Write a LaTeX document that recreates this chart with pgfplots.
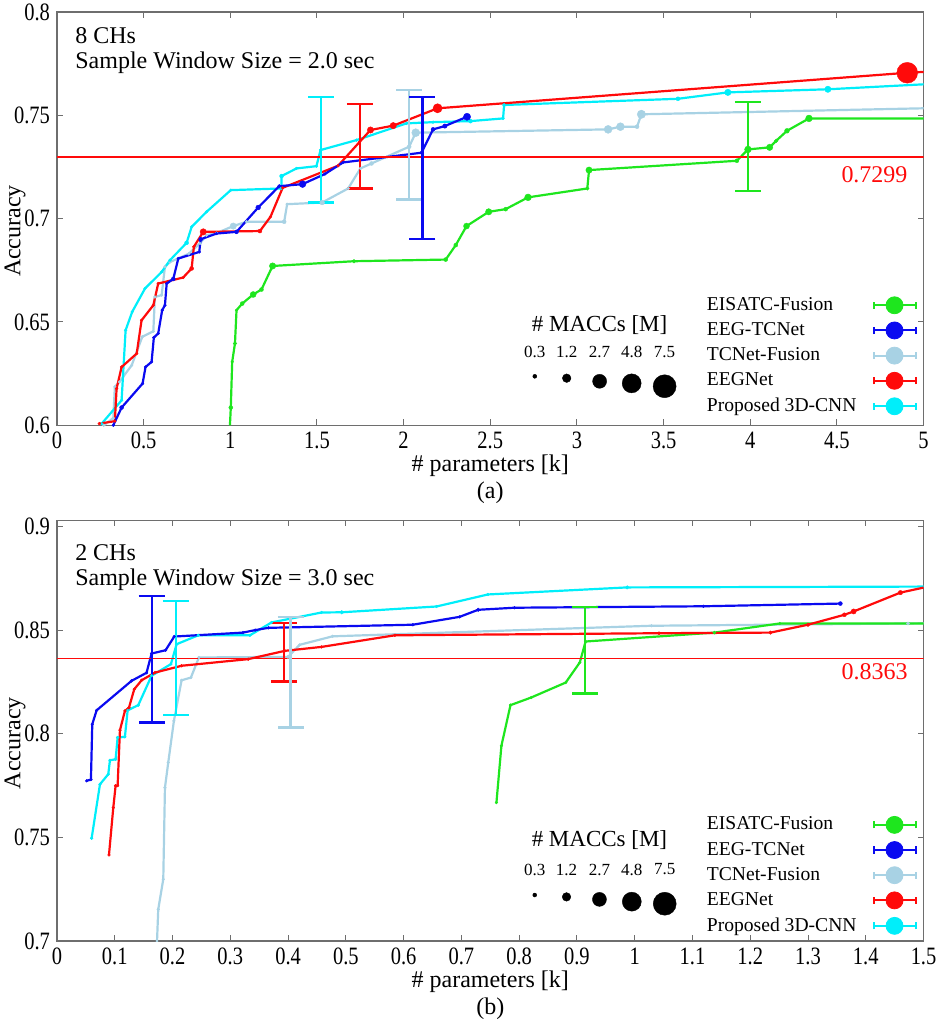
\documentclass[border=0pt]{standalone}
\usepackage{graphicx}
\usepackage{pgfplots}
\pgfplotsset{compat=1.18}
\usepackage{fontspec}
\setmainfont{Liberation Serif}

\definecolor{cGreen}{RGB}{30,230,30}
\definecolor{cBlue}{RGB}{10,10,240}
\definecolor{cLblue}{RGB}{168,210,228}
\definecolor{cRed}{RGB}{255,10,10}
\definecolor{cCyan}{RGB}{0,238,250}
\definecolor{cFrame}{RGB}{110,110,110}

\newcommand{\legimg}[1]{\addlegendimage{legend image code/.code={
  \draw[#1, line width=1pt] (0pt,0pt)--(21pt,0pt) (0pt,-1.8pt)--(0pt,1.8pt) (21pt,-1.8pt)--(21pt,1.8pt);
  \fill[#1] (10.5pt,0pt) circle (4.25pt);}}}

\tikzset{
  lab/.style={font=\fontsize{12}{12.5}\selectfont, align=left, anchor=north west, inner sep=0pt},
  macc/.style={font=\fontsize{11.5}{13}\selectfont},
  mnum/.style={font=\fontsize{8.5}{10}\selectfont},
}

\pgfplotsset{
  ser/.style={color=#1, line width=1.1pt, mark=*, forget plot,
    mark options={solid, line width=0.2pt},
    scatter, scatter/use mapped color={draw=#1, fill=#1},
    visualization depends on={\thisrow{s} \as \msz},
    scatter/@pre marker code/.append style={/tikz/mark size=\msz}},
  ebar/.style={color=#1, mark=none, forget plot, line width=1.1pt,
    error bars/.cd, y dir=both, y explicit,
    error bar style={line width=1.1pt, color=#1},
    error mark options={line width=1.1pt, color=#1, mark size=6.5pt, rotate=90}},
  thr/.style={cRed, line width=0.8pt, forget plot},
  fig/.style={scale only axis, width=433.5pt,
    axis line style={draw=cFrame, line width=0.6pt},
    major tick style={draw=cFrame, line width=0.5pt},
    major tick length=3pt, tick align=inside,
    xtick pos=both, ytick pos=both,
    /pgf/number format/assume math mode=true,
    tick label style={font=\fontsize{12.5}{13}\selectfont},
    xticklabel={\scalebox{0.82}[1]{\pgfmathprintnumber{\tick}}},
    yticklabel={\scalebox{0.82}[1]{\pgfmathprintnumber{\tick}}},
    label style={font=\fontsize{12}{13.5}\selectfont},
    xlabel style={align=center, yshift=4pt},
    ylabel={Accuracy},
    ylabel style={at={(rel axis cs:-0.0484,0.47)}, anchor=center},
    legend plot pos=right,
    legend cell align=left,
    legend style={draw=none, fill=none, font=\fontsize{9.8}{11}\selectfont,
      row sep=0.6pt, column sep=6pt, anchor=north west},
  },
}

\begin{document}
\begin{tikzpicture}
\useasboundingbox (-28.5pt,-299pt) rectangle (442.5pt,212.75pt);

% ---------------- (a) 8 channels, 2.0 s ----------------
\begin{axis}[fig, at={(0,0)}, anchor=south west, height=206.75pt,
  xmin=0, xmax=5, ymin=0.6, ymax=0.8,
  xtick={0,0.5,1,1.5,2,2.5,3,3.5,4,4.5,5},
  ytick={0.6,0.65,0.7,0.75,0.8},
  xlabel={\# parameters [k]\\(a)},
  legend style={at={(rel axis cs:0.738,0.33)}}]

\addplot[ser=cLblue] table {
x y s
0.27 0.6 0.7
0.325 0.6035 0.7
0.334 0.6186 0.7
0.36 0.621 0.7
0.431 0.629 0.7
0.492 0.6428 0.7
0.556 0.6455 0.7
0.565 0.6621 0.7
0.604 0.663 0.7
0.623 0.6767 0.7
0.652 0.679 0.7
0.76 0.683 0.7
0.825 0.688 0.7
0.863 0.692 0.7
0.921 0.693 0.7
1.017 0.6964 1.6
1.094 0.6985 0.7
1.311 0.6985 1.0
1.328 0.707 0.7
1.53 0.7078 1.2
1.68 0.7146 0.7
1.751 0.7243 0.7
1.815 0.7267 1.0
2.032 0.7348 1.0
2.07 0.7416 2.0
3.18 0.7432 2.0
3.251 0.7445 2.0
3.347 0.7445 1.0
3.372 0.7505 2.1
5.0 0.7534 0
};
\addplot[ser=cGreen] table {
x y s
0.998 0.6 0
1.003 0.6086 1.0
1.011 0.6307 0.7
1.027 0.6396 0.9
1.036 0.6557 0.7
1.069 0.6589 1.0
1.132 0.6633 1.5
1.18 0.6657 1.0
1.244 0.6771 1.6
1.714 0.6794 0.9
2.243 0.6802 1.0
2.301 0.6872 1.0
2.363 0.6964 1.5
2.491 0.7033 1.6
2.589 0.7046 1.0
2.718 0.7103 1.7
3.06 0.7146 0.9
3.07 0.7235 1.6
3.923 0.728 1.0
3.987 0.7335 1.7
4.112 0.7345 1.6
4.15 0.7377 0.9
4.212 0.7425 1.2
4.339 0.7485 1.7
5.0 0.7485 0
};
\addplot[ser=cCyan] table {
x y s
0.258 0.6008 0.7
0.373 0.6121 0.7
0.396 0.646 0.7
0.434 0.6549 0.7
0.508 0.6662 0.7
0.604 0.6742 0.7
0.652 0.6799 0.7
0.748 0.6883 1.0
0.777 0.696 0.7
0.863 0.7033 0.7
1.003 0.7138 0.7
1.296 0.7146 0.7
1.296 0.7206 1.0
1.382 0.7243 0.7
1.497 0.7254 0.7
1.521 0.7332 0.7
1.728 0.738 0.7
2.017 0.7461 0.7
2.17 0.7467 0.7
2.386 0.7472 1.0
2.574 0.7485 0.7
2.58 0.755 0.9
3.583 0.758 1.0
3.871 0.7611 1.6
4.448 0.7626 1.6
5.0 0.765 0
};
\addplot[ser=cRed] table {
x y s
0.244 0.6008 0.7
0.334 0.602 0.7
0.344 0.6178 0.7
0.373 0.6282 0.7
0.46 0.6347 0.7
0.488 0.6508 0.7
0.556 0.6581 0.7
0.584 0.6686 0.7
0.728 0.6715 0.7
0.777 0.6759 1.0
0.79 0.6864 0.7
0.844 0.6936 1.6
1.171 0.694 1.0
1.232 0.7009 0.7
1.302 0.7149 0.7
1.622 0.7256 0.7
1.747 0.7372 0.7
1.809 0.7429 1.6
1.94 0.745 1.6
2.196 0.7534 2.3
4.906 0.7706 5.2
5.0 0.771 0
};
\addplot[ser=cBlue] table {
x y s
0.325 0.6 0.7
0.373 0.6086 1.0
0.494 0.6202 0.7
0.511 0.6282 0.7
0.546 0.6307 0.7
0.559 0.6425 0.7
0.584 0.6444 0.7
0.607 0.6557 0.7
0.623 0.6581 0.7
0.633 0.6686 0.7
0.671 0.6708 1.0
0.70 0.6807 0.7
0.821 0.6839 0.7
0.829 0.69 1.0
0.921 0.6928 0.7
1.036 0.6936 1.0
1.161 0.7054 1.2
1.282 0.7157 0.9
1.417 0.7167 1.7
1.546 0.7216 0.7
1.651 0.7272 0.7
2.103 0.7319 0.9
2.17 0.7432 1.0
2.238 0.7448 1.1
2.366 0.7493 1.8
};

\addplot[thr] coordinates {(0,0.7299) (5,0.7299)};
\node[cRed, anchor=east, font=\fontsize{12}{13}\selectfont] at (axis cs:4.948,0.7211) {0.7299};

\addplot[ebar=cCyan] coordinates {(1.523,0.7334) +- (0,0.0256)};
\addplot[ebar=cRed] coordinates {(1.747,0.735) +- (0,0.0204)};
\addplot[ebar=cLblue] coordinates {(2.032,0.7358) +- (0,0.0265)};
\addplot[ebar=cBlue] coordinates {(2.109,0.7245) +- (0,0.0345)};
\addplot[ebar=cGreen] coordinates {(3.987,0.735) +- (0,0.0216)};

\node[lab] at (axis cs:0.104,0.7927) {8 CHs\\Sample Window Size = 2.0 sec};

% MACC size key
\addplot[ser=black, only marks] table {
x y s
2.757 0.6237 1.0
2.941 0.6228 2.15
3.131 0.6213 3.5
3.316 0.6203 4.75
3.506 0.6189 5.75
};
\node[macc] at (axis cs:3.131,0.6484) {\# MACCs [M]};
\node[mnum] at (axis cs:2.757,0.6354) {0.3};
\node[mnum] at (axis cs:2.941,0.6354) {1.2};
\node[mnum] at (axis cs:3.131,0.6354) {2.7};
\node[mnum] at (axis cs:3.316,0.6354) {4.8};
\node[mnum] at (axis cs:3.506,0.6354) {7.5};

\legimg{cGreen}\legimg{cBlue}\legimg{cLblue}\legimg{cRed}\legimg{cCyan}
\legend{EISATC-Fusion, EEG-TCNet, TCNet-Fusion, EEGNet, Proposed 3D-CNN}
\end{axis}

% ---------------- (b) 2 channels, 3.0 s ----------------
\begin{axis}[fig, at={(0,-47.5pt)}, anchor=north west, height=210.5pt,
  xmin=0, xmax=1.5, ymin=0.7, ymax=0.903,
  xtick={0,0.1,0.2,0.3,0.4,0.5,0.6,0.7,0.8,0.9,1,1.1,1.2,1.3,1.4,1.5},
  ytick={0.7,0.75,0.8,0.85,0.9},
  xlabel={\# parameters [k]\\(b)},
  legend style={at={(rel axis cs:0.738,0.315)}}]

\addplot[ser=cLblue] table {
x y s
0.1718 0.69 0
0.1753 0.7153 0.7
0.184 0.7298 0.7
0.1869 0.774 0.7
0.1926 0.7861 0.7
0.2024 0.8062 0.7
0.2157 0.8258 0.7
0.2318 0.8271 0.7
0.2457 0.8368 0.7
0.40 0.8371 0.9
0.42 0.8429 0.7
0.477 0.847 0.7
1.029 0.8521 0.7
1.473 0.8532 0.8
1.5 0.8533 0
};
\addplot[ser=cGreen] table {
x y s
0.7607 0.7668 0.7
0.7693 0.7942 0.7
0.785 0.8138 0.7
0.821 0.8175 0.7
0.8806 0.8247 0.7
0.905 0.8344 0.7
0.915 0.8445 0.7
1.138 0.8488 0.8
1.251 0.8532 0.7
1.5 0.8532 0
};
\addplot[ser=cCyan] table {
x y s
0.06 0.7496 0.7
0.0744 0.7756 0.7
0.0888 0.7805 0.7
0.0917 0.7872 0.7
0.1015 0.7877 0.7
0.105 0.7982 0.7
0.1176 0.7985 0.7
0.1223 0.8113 0.7
0.1407 0.8138 0.7
0.1638 0.828 0.7
0.1972 0.8336 0.7
0.2071 0.8432 0.7
0.2445 0.8475 0.7
0.334 0.8475 0.7
0.3714 0.8537 0.7
0.458 0.8585 0.7
0.493 0.8586 0.9
0.657 0.8614 0.7
0.746 0.8672 0.7
0.987 0.8706 0.9
1.5 0.871 0
};
\addplot[ser=cRed] table {
x y s
0.09 0.7415 0.7
0.0975 0.7644 0.7
0.1015 0.7749 0.7
0.105 0.775 0.7
0.109 0.8017 0.7
0.1176 0.811 0.7
0.1246 0.8126 0.7
0.1338 0.8215 0.7
0.1465 0.8258 0.7
0.1696 0.8295 0.7
0.2157 0.8328 0.7
0.331 0.836 0.7
0.3945 0.84 0.7
0.458 0.8419 0.7
0.585 0.8475 0.7
1.042 0.8485 0.8
1.235 0.8488 0.9
1.3 0.8526 0.9
1.363 0.8574 1.0
1.379 0.859 1.3
1.46 0.8681 1.1
1.5 0.8705 0
};
\addplot[ser=cBlue] table {
x y s
0.0514 0.7773 0.7
0.0588 0.7779 0.7
0.0611 0.8046 0.7
0.0686 0.8113 0.7
0.129 0.8255 0.7
0.155 0.8294 0.7
0.1638 0.8387 0.7
0.188 0.8403 0.7
0.203 0.8469 0.7
0.322 0.8488 0.7
0.343 0.85 0.7
0.366 0.8511 0.7
0.616 0.8526 0.7
0.697 0.8564 0.7
0.729 0.8598 0.9
0.792 0.8608 0.7
1.119 0.8615 0.7
1.356 0.8628 1.0
};

\addplot[thr] coordinates {(0,0.8363) (1.5,0.8363)};
\node[cRed, anchor=east, font=\fontsize{12}{13}\selectfont] at (axis cs:1.4845,0.8298) {0.8363};

\addplot[ebar=cBlue] coordinates {(0.1638,0.836) +- (0,0.0306)};
\addplot[ebar=cCyan] coordinates {(0.2059,0.8366) +- (0,0.0275)};
\addplot[ebar=cRed] coordinates {(0.3933,0.8393) +- (0,0.0141)};
\addplot[ebar=cLblue] coordinates {(0.4043,0.8296) +- (0,0.0266)};
\addplot[ebar=cGreen] coordinates {(0.9135,0.8402) +- (0,0.0208)};

\node[lab] at (axis cs:0.031,0.8913) {2 CHs\\Sample Window Size = 3.0 sec};

\addplot[ser=black, only marks] table {
x y s
0.827 0.7222 1.0
0.882 0.7213 2.15
0.939 0.7201 3.5
0.995 0.719 4.75
1.052 0.718 5.75
};
\node[macc] at (axis cs:0.939,0.7485) {\# MACCs [M]};
\node[mnum] at (axis cs:0.827,0.7345) {0.3};
\node[mnum] at (axis cs:0.882,0.7345) {1.2};
\node[mnum] at (axis cs:0.939,0.7345) {2.7};
\node[mnum] at (axis cs:0.995,0.7345) {4.8};
\node[mnum] at (axis cs:1.052,0.7345) {7.5};

\legimg{cGreen}\legimg{cBlue}\legimg{cLblue}\legimg{cRed}\legimg{cCyan}
\legend{EISATC-Fusion, EEG-TCNet, TCNet-Fusion, EEGNet, Proposed 3D-CNN}
\end{axis}
\end{tikzpicture}
\end{document}
